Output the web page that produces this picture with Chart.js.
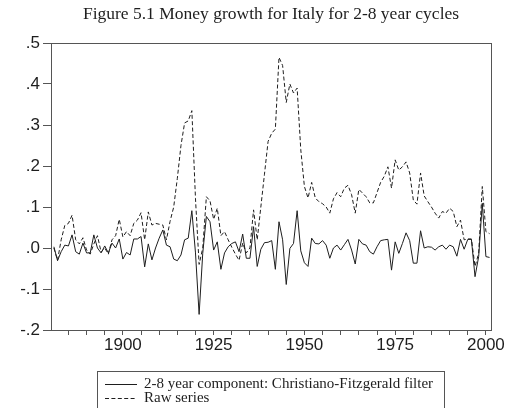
<!DOCTYPE html>
<html lang="en">
<head>
<meta charset="UTF-8" />
<title>Money growth for Italy for 2-8 year cycles</title>
<script src="https://cdn.jsdelivr.net/npm/chart.js@4.4.1/dist/chart.umd.min.js"></script>
<style>
  html, body { margin: 0; padding: 0; background: #fff; }
</style>
</head>
<body>
<canvas id="moneyChart" width="509" height="408"></canvas>
<script>
// yearly observations, 1881-2001
const years = Array.from({ length: 121 }, (_, i) => 1881 + i);

const cfComponent = [
  0.003, -0.031, -0.009, 0.007, 0.005, 0.032, -0.009, -0.015, 0.012, -0.012,
  -0.012, 0.032, 0.0, -0.012, 0.005, -0.012, 0.012, 0.0, 0.022, -0.027,
  -0.011, -0.017, 0.022, 0.022, 0.028, -0.046, 0.01, -0.029, 0.0, 0.024,
  0.044, 0.007, 0.003, -0.027, -0.031, -0.017, 0.02, 0.024, 0.091, -0.012,
  -0.162, -0.013, 0.077, 0.064, -0.005, 0.015, -0.052, -0.012, 0.003, 0.011,
  0.015, -0.009, 0.034, -0.025, -0.025, 0.052, -0.045, -0.003, 0.013, 0.014,
  0.018, -0.052, 0.064, 0.02, -0.089, -0.001, 0.011, 0.091, -0.007, -0.036,
  -0.045, 0.024, 0.011, 0.01, 0.018, 0.007, -0.025, 0.0, 0.007, -0.005,
  0.008, 0.021, -0.005, -0.039, 0.021, 0.01, 0.007, -0.009, -0.015, 0.003,
  0.018, 0.02, 0.021, -0.054, 0.015, -0.013, 0.011, 0.037, 0.018, -0.037,
  -0.037, 0.042, 0.0, 0.003, 0.002, -0.005, 0.003, 0.007, -0.003, 0.007,
  0.003, -0.02, 0.021, -0.003, 0.021, 0.021, -0.07, -0.021, 0.109, -0.021,
  -0.023
];

const rawSeries = [
  0.0, -0.03, 0.02, 0.055, 0.06, 0.08, 0.02, 0.01, 0.025, -0.005,
  -0.015, 0.01, 0.03, -0.01, 0.0, -0.015, 0.02, 0.03, 0.07, 0.027,
  0.04, 0.03, 0.06, 0.068, 0.086, 0.02, 0.088, 0.056, 0.06, 0.058,
  0.056, 0.02, 0.065, 0.1, 0.17, 0.25, 0.305, 0.31, 0.335, 0.12,
  -0.04, 0.0, 0.125, 0.115, 0.07, 0.097, 0.03, 0.04, 0.02, 0.002,
  -0.015, -0.03, 0.012, -0.012, 0.0, 0.093, 0.02, 0.1, 0.18, 0.26,
  0.28, 0.29, 0.465, 0.445, 0.355, 0.4, 0.378, 0.39, 0.24, 0.15,
  0.122, 0.16, 0.122, 0.113, 0.108, 0.1, 0.085, 0.12, 0.135, 0.125,
  0.146, 0.153, 0.13, 0.085, 0.143, 0.134, 0.125, 0.11, 0.11, 0.135,
  0.16, 0.175, 0.198, 0.146, 0.215, 0.19, 0.198, 0.21, 0.183, 0.117,
  0.107, 0.183, 0.127, 0.113, 0.1, 0.085, 0.073, 0.089, 0.085, 0.097,
  0.089, 0.052, 0.068, 0.02, 0.022, 0.022, -0.045, -0.013, 0.15, 0.04,
  0.035
];

const seriesNames = ['2-8 year component: Christiano-Fitzgerald filter', 'Raw series'];
const titleText = 'Figure 5.1 Money growth for Italy for 2-8 year cycles';

const ink = '#1e1e1e';
const frame = '#555';

// legend in a framed box under the axis, like the original figure
const boxLegend = {
  id: 'boxLegend',
  afterDraw(chart) {
    const ctx = chart.ctx;
    ctx.save();
    ctx.strokeStyle = frame;
    ctx.lineWidth = 1;
    ctx.strokeRect(97.5, 371.5, 347, 60);
    ctx.font = '15px "Liberation Serif", "Times New Roman", serif';
    ctx.textBaseline = 'middle';
    chart.data.datasets.forEach((ds, i) => {
      const y = 384.5 + i * 14;
      ctx.strokeStyle = ds.borderColor;
      ctx.lineWidth = ds.borderWidth;
      ctx.setLineDash(ds.borderDash || []);
      ctx.beginPath();
      ctx.moveTo(105, y);
      ctx.lineTo(137, y);
      ctx.stroke();
      ctx.setLineDash([]);
      ctx.fillStyle = ink;
      ctx.fillText(ds.label, 144, y);
    });
    ctx.restore();
  }
};

const tickFont = { family: '"Liberation Sans", Arial, sans-serif', size: 17 };

new Chart(document.getElementById('moneyChart'), {
  type: 'line',
  data: {
    datasets: [
      {
        label: seriesNames[0],
        data: years.map((y, i) => ({ x: y, y: cfComponent[i] })),
        borderColor: ink,
        borderWidth: 1,
        pointRadius: 0,
        tension: 0
      },
      {
        label: seriesNames[1],
        data: years.map((y, i) => ({ x: y, y: rawSeries[i] })),
        borderColor: ink,
        borderWidth: 1,
        borderDash: [4, 2.4],
        pointRadius: 0,
        tension: 0
      }
    ]
  },
  options: {
    responsive: false,
    animation: false,
    layout: { padding: { left: 0, right: 18, top: 0, bottom: 0 } },
    plugins: {
      legend: { display: false },
      tooltip: { enabled: false },
      title: {
        display: true,
        fullSize: false,
        text: titleText,
        color: ink,
        font: { family: '"Liberation Serif", "Times New Roman", serif', size: 17.5, weight: 'normal' },
        padding: { top: 3.5, bottom: 18.5 }
      }
    },
    scales: {
      x: {
        type: 'linear',
        position: 'bottom',
        min: 1880.2,
        max: 2001.4,
        afterFit: (s) => { s.height = 78; },
        ticks: {
          stepSize: 5,
          autoSkip: false,
          includeBounds: false,
          maxRotation: 0,
          padding: 0,
          color: ink,
          font: tickFont,
          callback: (v) => (v % 25 === 0 ? String(v) : '')
        },
        grid: { drawOnChartArea: false, tickLength: 5, color: frame },
        border: { color: frame, width: 1 }
      },
      xTop: {
        type: 'linear',
        position: 'top',
        min: 1880.2,
        max: 2001.4,
        afterFit: (s) => { s.height = 0; },
        ticks: { display: false },
        grid: { display: false },
        border: { color: frame, width: 1 }
      },
      y: {
        min: -0.2,
        max: 0.5,
        afterFit: (s) => { s.width = 51; },
        ticks: {
          stepSize: 0.1,
          padding: 3,
          color: ink,
          font: tickFont,
          callback: (v) => (Math.abs(v) < 1e-9 ? '.0' : v.toFixed(1).replace('0.', '.'))
        },
        grid: { drawOnChartArea: false, tickLength: 8, color: frame },
        border: { color: frame, width: 1 }
      },
      yRight: {
        position: 'right',
        min: -0.2,
        max: 0.5,
        afterFit: (s) => { s.width = 0; },
        ticks: { display: false },
        grid: { display: false },
        border: { color: frame, width: 1 }
      }
    }
  },
  plugins: [boxLegend]
});
</script>
</body>
</html>
